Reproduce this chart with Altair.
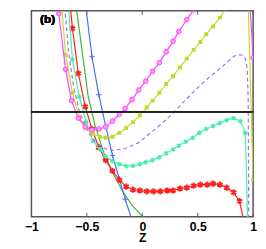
import altair as alt
import pandas as pd

# ---- data (Z, value) ----
mag_z = [-0.789, -0.753, -0.692, -0.639, -0.577, -0.515, -0.454, -0.392, -0.330, -0.269, -0.207, -0.154,
         -0.093, -0.031, 0.031, 0.093, 0.154, 0.216, 0.278, 0.330, 0.401, 0.463, 0.524]
mag_v = [1.223, 0.935, 0.405, 0.107, -0.060, -0.144, -0.172, -0.163, -0.144, -0.088, -0.023, 0.033,
         0.116, 0.209, 0.293, 0.386, 0.470, 0.572, 0.674, 0.767, 0.879, 0.972, 1.065]
mag2_z = [0.960, 1.0]
mag2_v = [1.223, 0.516]

yel_z = [-0.736, -0.692, -0.630, -0.568, -0.507, -0.445, -0.383, -0.330, -0.269, -0.207, -0.145, -0.084,
         -0.022, 0.040, 0.093, 0.154, 0.216, 0.278, 0.339, 0.401, 0.463, 0.524, 0.577, 0.639, 0.700,
         0.762, 0.824]
yel_v = [1.130, 0.544, 0.181, -0.051, -0.153, -0.209, -0.237, -0.247, -0.237, -0.200, -0.153, -0.098,
         -0.033, 0.042, 0.107, 0.181, 0.265, 0.340, 0.423, 0.507, 0.591, 0.665, 0.740, 0.814, 0.898,
         0.991, 1.084]
yel2_z = [0.952, 1.0]
yel2_v = [1.177, -0.647]

pur_z = [-0.709, -0.700, -0.665, -0.621, -0.568, -0.498, -0.427, -0.339, -0.269, -0.154, -0.031, 0.084,
         0.189, 0.286, 0.392, 0.480, 0.612, 0.683, 0.771, 0.833, 0.894, 0.930, 0.947, 0.956, 0.960, 0.960]
pur_v = [1.130, 0.991, 0.572, 0.247, 0.005, -0.172, -0.284, -0.349, -0.367, -0.349, -0.293, -0.191,
         -0.098, -0.005, 0.116, 0.209, 0.340, 0.395, 0.479, 0.535, 0.544, 0.507, 0.414, 0.107, -1.0, -1.102]

aqu_z = [-0.674, -0.630, -0.568, -0.507, -0.445, -0.383, -0.330, -0.269, -0.207, -0.145, -0.084, -0.022,
         0.031, 0.093, 0.154, 0.216, 0.278, 0.330, 0.392, 0.454, 0.515, 0.577, 0.639, 0.700, 0.762,
         0.824, 0.885, 0.930, 0.952]
aqu_v = [1.130, 0.498, 0.144, -0.098, -0.274, -0.358, -0.423, -0.470, -0.498, -0.516, -0.516, -0.498,
         -0.479, -0.460, -0.433, -0.395, -0.358, -0.321, -0.284, -0.247, -0.200, -0.163, -0.135, -0.107,
         -0.079, -0.060, -0.088, -0.200, -1.102]

red_z = [-0.656, -0.630, -0.577, -0.515, -0.454, -0.392, -0.330, -0.269, -0.207, -0.145, -0.084, -0.022,
         0.040, 0.101, 0.163, 0.225, 0.278, 0.339, 0.401, 0.463, 0.524, 0.586, 0.639, 0.700, 0.762,
         0.824, 0.877, 0.930]
red_v = [1.084, 0.795, 0.367, 0.051, -0.163, -0.340, -0.460, -0.563, -0.647, -0.712, -0.740, -0.749,
         -0.758, -0.758, -0.758, -0.749, -0.749, -0.730, -0.721, -0.702, -0.693, -0.693, -0.684, -0.693,
         -0.721, -0.767, -0.851, -1.102]

grn_z = [-0.604, -0.595, -0.542, -0.489, -0.427, -0.348, -0.260, -0.181, -0.093, 0.004]
grn_v = [1.130, 0.991, 0.572, 0.153, -0.126, -0.386, -0.591, -0.749, -0.888, -1.0]

blu_z = [-0.515, -0.507, -0.454, -0.392, -0.330, -0.269, -0.207, -0.154, -0.084]
blu_v = [1.065, 0.981, 0.526, 0.163, -0.135, -0.414, -0.637, -0.833, -1.056]

tick_values = [-1, -0.5, 0, 0.5, 1]

W, H = 227, 211
YDOM = [-1.0, 0.963]

xs = alt.Scale(domain=[-1, 1], nice=False, zero=False)
ys = alt.Scale(domain=YDOM, nice=False, zero=False)


def frame(segs):
    rows = []
    for s, (zz, vv) in enumerate(segs):
        for i, (z, v) in enumerate(zip(zz, vv)):
            rows.append({"Z": z, "v": v, "seg": s, "idx": i})
    return pd.DataFrame(rows)


def series(segs, color, shape=None, size=20, filled=False, fill=None, sw=1.2, dash=None, msw=1.0):
    df = frame(segs)
    lk = dict(clip=True, color=color, strokeWidth=sw)
    if dash:
        lk["strokeDash"] = dash
    line = alt.Chart(df).mark_line(**lk).encode(
        x=alt.X("Z:Q", scale=xs),
        y=alt.Y("v:Q", scale=ys),
        detail="seg:N",
        order="idx:Q",
    )
    if shape is None:
        return [line]
    pk = dict(clip=True, shape=shape, size=size, filled=filled, strokeWidth=msw, opacity=1)
    if filled:
        pk["color"] = color
    else:
        pk["stroke"] = color
        if fill:
            pk["fill"] = fill
            pk["fillOpacity"] = 1
    pts = alt.Chart(df).mark_point(**pk).encode(
        x=alt.X("Z:Q", scale=xs),
        y=alt.Y("v:Q", scale=ys),
    )
    return [line, pts]


ASTER = "M0,-1L0,1M-0.87,-0.5L0.87,0.5M-0.87,0.5L0.87,-0.5"
PLUS = "M-1,0L1,0M0,-1L0,1"

layers = []
layers += series([(grn_z, grn_v)], "#3cb43c")
layers += series([(blu_z, blu_v)], "#4a6cff", shape=PLUS, size=30, msw=1.0)
layers += series([(red_z, red_v)], "#ff2020", shape=ASTER, size=40, msw=2.0)
layers += series([(aqu_z, aqu_v)], "#44f0aa", shape=ASTER, size=22, msw=1.6)
layers += series([(pur_z, pur_v)], "#a566ff", dash=[4, 3])
layers += series([(yel_z, yel_v), (yel2_z, yel2_v)], "#c4d82c", shape="square", size=16, filled=True)
layers += series([(mag_z, mag_v), (mag2_z, mag2_v)], "#ff44ff", shape="circle", size=22, fill="#ff99ff", msw=1.0)

ticks_df = pd.DataFrame({"t": tick_values})

axis_x = alt.Axis(
    values=tick_values, ticks=False, tickSize=0, domain=False, grid=False, format="~g",
    labelFlush=False, labelOverlap=False,
    labelFont="Liberation Sans", labelFontWeight="bold", labelFontSize=12.5, labelColor="black",
    labelBaseline="alphabetic", labelPadding=14,
    labelExpr="replace(datum.label, '-', '\u2212')",
    title="Z", titleFont="Liberation Sans", titleFontWeight="bold", titleFontSize=12.5,
    titleColor="black", titleBaseline="alphabetic", titleY=25,
)

base_axis = alt.Chart(ticks_df).mark_rule(color="#555555", strokeWidth=1).encode(
    x=alt.X("t:Q", scale=xs, axis=axis_x),
    y=alt.value(H), y2=alt.value(H - 4),
)
top_ticks = alt.Chart(ticks_df).mark_rule(color="#555555", strokeWidth=1).encode(
    x=alt.X("t:Q", scale=xs),
    y=alt.value(0), y2=alt.value(4),
)
zero_line = alt.Chart(ticks_df).mark_rule(color="#222222", strokeWidth=1.5).encode(
    y=alt.Y(datum=0, scale=ys, axis=None),
)
label_b = alt.Chart(ticks_df).mark_text(
    text="(b)", font="Liberation Sans", fontWeight="bold", fontSize=12, color="black",
    align="center", baseline="alphabetic",
).encode(x=alt.value(16.5), y=alt.value(13))

chart = alt.layer(base_axis, top_ticks, *layers, zero_line, label_b).properties(
    width=W, height=H,
    autosize=alt.AutoSizeParams(type="none"),
    padding={"left": 24, "top": 0, "right": 5, "bottom": 27},
).configure_view(stroke="#555555", strokeWidth=1.5).configure_axisY(disable=True)

chart.save("out.html", embed_options={"renderer": "svg", "actions": False})
